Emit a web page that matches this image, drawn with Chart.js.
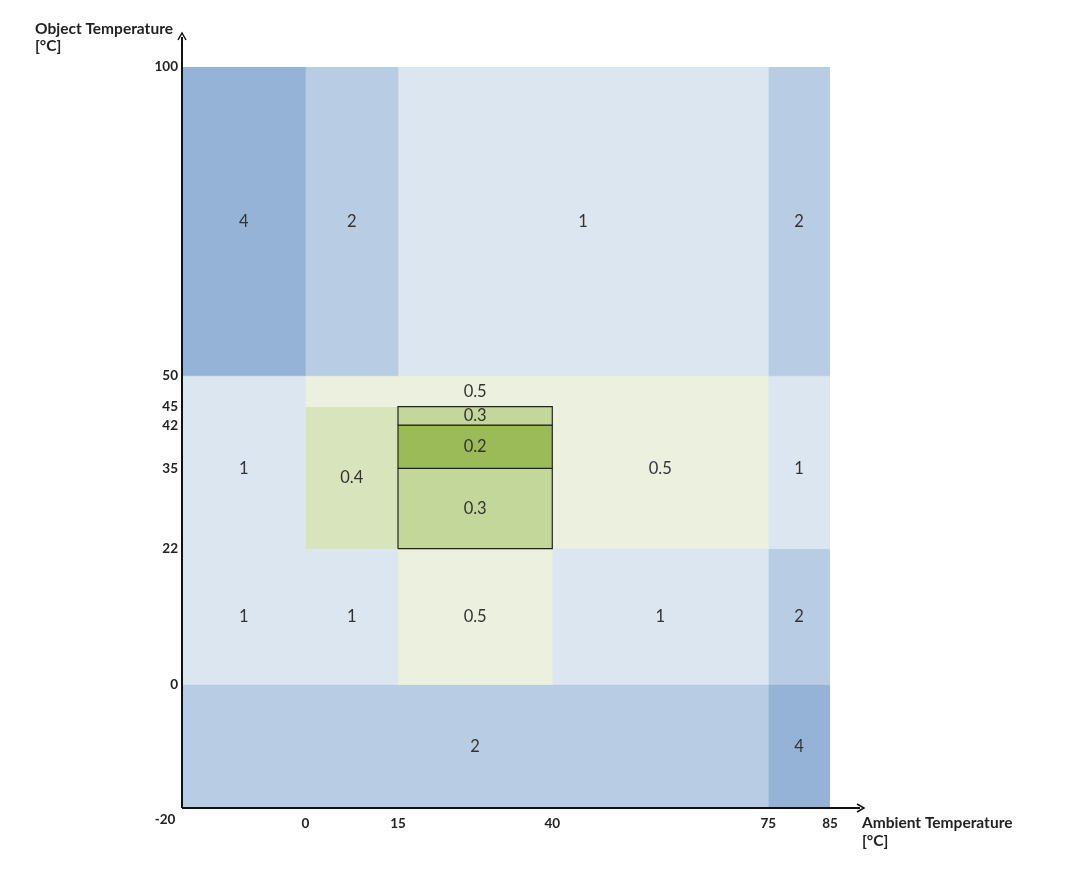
<!DOCTYPE html>
<html>
<head>
<meta charset="utf-8">
<script src="https://cdn.jsdelivr.net/npm/chart.js@4.4.1/dist/chart.umd.min.js"></script>
<style>
html,body{margin:0;padding:0;background:#fff;}
#wrap{width:1080px;height:876px;position:relative;}
</style>
</head>
<body>
<div id="wrap"><canvas id="c" width="1080" height="876"></canvas></div>
<script>
// ---- data ----
const xTicks = [-20, 0, 15, 40, 75, 85];
const yTicks = [-20, 0, 22, 35, 42, 45, 50, 100];
const cellX0 = [-20, 0, 15, 75, -20, 0, 0, 15, 15, 15, 40, 75, -20, 0, 15, 40, 75, -20, 75];
const cellX1 = [0, 15, 75, 85, 0, 75, 15, 40, 40, 40, 75, 85, 0, 15, 40, 75, 85, 75, 85];
const cellY0 = [50, 50, 50, 50, 22, 45, 22, 42, 35, 22, 22, 22, 0, 0, 0, 0, 0, -20, -20];
const cellY1 = [100, 100, 100, 100, 50, 50, 45, 45, 42, 35, 45, 50, 22, 22, 22, 22, 22, 0, 0];
const cellValue = [4, 2, 1, 2, 1, 0.5, 0.4, 0.3, 0.2, 0.3, 0.5, 1, 1, 1, 0.5, 1, 2, 2, 4];
const labelX = [-10, 7.5, 45, 80, -10, 27.5, 7.5, 27.5, 27.5, 27.5, 57.5, 80, -10, 7.5, 27.5, 57.5, 80, 27.5, 80];
const labelY = [75, 75, 75, 75, 35, 47.5, 33.5, 43.5, 38.5, 28.5, 35, 35, 11, 11, 11, 11, 11, -10, -10];
const bordered = [false, false, false, false, false, false, false, true, true, true, false, false, false, false, false, false, false, false, false];

const colorFor = {4:'#95b3d7', 2:'#b8cce4', 1:'#dce6f1', 0.5:'#ebf1de', 0.4:'#d8e4bc', 0.3:'#c4d79b', 0.2:'#9bbb59'};

const datasets = cellValue.map((v, i) => ({
  label: 'cell' + i,
  data: [
    {x: cellX0[i], y: cellY0[i]},
    {x: cellX1[i], y: cellY0[i]},
    {x: cellX1[i], y: cellY1[i]},
    {x: cellX0[i], y: cellY1[i]},
    {x: cellX0[i], y: cellY0[i]}
  ],
  showLine: true,
  fill: 'shape',
  backgroundColor: colorFor[v],
  borderColor: bordered[i] ? '#222' : colorFor[v],
  borderWidth: bordered[i] ? 1.2 : 0.6,
  pointRadius: 0,
  pointHoverRadius: 0,
  tension: 0,
  order: bordered[i] ? 0 : 1
}));

const overlay = {
  id: 'overlay',
  afterDatasetsDraw(chart) {
    const ctx = chart.ctx, xs = chart.scales.x, ys = chart.scales.y;
    ctx.save();
    ctx.fillStyle = '#333';
    ctx.font = '16.5px Lato, "Open Sans", sans-serif';
    ctx.textAlign = 'center';
    ctx.textBaseline = 'middle';
    cellValue.forEach((v, i) => {
      ctx.fillText(String(v), xs.getPixelForValue(labelX[i]), ys.getPixelForValue(labelY[i]));
    });
    ctx.restore();
  },
  afterDraw(chart) {
    const ctx = chart.ctx, xs = chart.scales.x, ys = chart.scales.y;
    const ox = xs.getPixelForValue(-20), oy = ys.getPixelForValue(-20);
    const topY = 33;
    const rightX = 864;
    ctx.save();
    ctx.strokeStyle = '#111';
    ctx.fillStyle = '#111';
    ctx.lineWidth = 2;
    ctx.beginPath();
    ctx.moveTo(ox, oy); ctx.lineTo(ox, topY + 4);
    ctx.moveTo(ox, oy); ctx.lineTo(rightX - 4, oy);
    ctx.stroke();
    ctx.lineWidth = 1.5;
    ctx.beginPath();
    ctx.moveTo(ox - 4, topY + 7); ctx.lineTo(ox, topY); ctx.lineTo(ox + 4, topY + 7);
    ctx.moveTo(rightX - 7, oy - 4); ctx.lineTo(rightX, oy); ctx.lineTo(rightX - 7, oy + 4);
    ctx.stroke();
    // corner label
    ctx.font = 'bold 13.5px Lato, "Open Sans", sans-serif';
    ctx.textAlign = 'center';
    ctx.textBaseline = 'middle';
    ctx.fillStyle = '#222';
    ctx.fillText('-20', ox - 17, oy + 12);
    // axis titles
    ctx.font = 'bold 15.5px Lato, "Open Sans", sans-serif';
    ctx.textAlign = 'left';
    ctx.fillText('Object Temperature', 35, 29);
    ctx.fillText('[°C]', 35, 46);
    ctx.fillText('Ambient Temperature', 862, 823);
    ctx.fillText('[°C]', 862, 841);
    ctx.restore();
  }
};

new Chart(document.getElementById('c'), {
  type: 'scatter',
  data: { datasets },
  plugins: [overlay],
  options: {
    responsive: false,
    animation: false,
    layout: { padding: { left: 0, right: 250, top: 67, bottom: 0 } },
    plugins: { legend: { display: false }, tooltip: { enabled: false } },
    elements: { line: { borderJoinStyle: 'miter' } },
    scales: {
      x: {
        type: 'linear', min: -20, max: 85,
        grid: { display: false, drawTicks: false },
        border: { display: false },
        afterBuildTicks(s) { s.ticks = xTicks.map(v => ({ value: v })); },
        afterFit(s) { s.height = 68; },
        ticks: {
          autoSkip: false, maxRotation: 0, padding: 8,
          color: '#222',
          font: { family: 'Lato, "Open Sans", sans-serif', size: 13.5, weight: 'bold' },
          callback: v => (v === -20 ? '' : String(v))
        }
      },
      y: {
        type: 'linear', min: -20, max: 100,
        grid: { display: false, drawTicks: false },
        border: { display: false },
        afterBuildTicks(s) { s.ticks = yTicks.map(v => ({ value: v })); },
        afterFit(s) { s.width = 182; },
        ticks: {
          autoSkip: false, padding: 4,
          color: '#222',
          font: { family: 'Lato, "Open Sans", sans-serif', size: 13.5, weight: 'bold' },
          callback: v => (v === -20 ? '' : String(v))
        }
      }
    }
  }
});
</script>
</body>
</html>
